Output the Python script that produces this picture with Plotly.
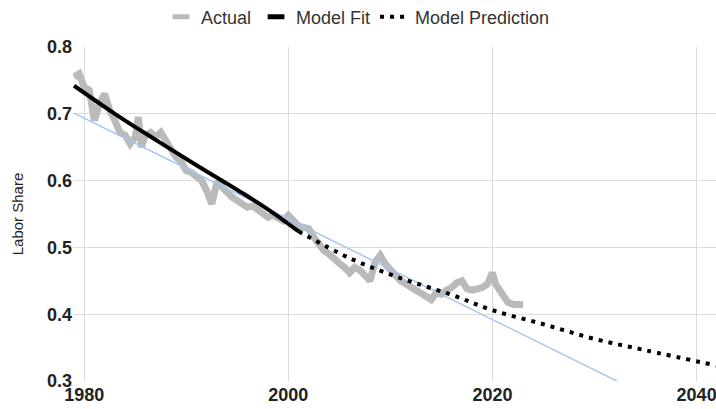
import plotly.graph_objects as go

# Actual labor share
actual_years = [1979.0, 1979.5, 1980.0, 1980.5, 1981.0, 1981.5, 1982.0, 1982.5, 1983.0, 1983.5,
                1984.0, 1984.5, 1985.0, 1985.3, 1985.6, 1986.0, 1986.5, 1987.0, 1987.5, 1988.0,
                1988.5, 1989.0, 1989.5, 1990.0, 1990.5, 1991.0, 1991.5, 1992.0, 1992.5, 1993.0,
                1993.5, 1994.0, 1994.5, 1995.0, 1995.5, 1996.0, 1996.5, 1997.0, 1997.5, 1998.0,
                1998.5, 1999.0, 1999.5, 2000.0, 2000.5, 2001.0, 2001.5, 2002.0, 2002.5, 2003.0,
                2003.5, 2004.0, 2004.5, 2005.0, 2005.5, 2006.0, 2006.5, 2007.0, 2007.5, 2008.0,
                2008.5, 2009.0, 2009.5, 2010.0, 2010.5, 2011.0, 2011.5, 2012.0, 2012.5, 2013.0,
                2013.5, 2014.0, 2014.5, 2015.0, 2015.5, 2016.0, 2016.5, 2017.0, 2017.5, 2018.0,
                2018.5, 2019.0, 2019.5, 2020.0, 2020.3, 2020.6, 2021.0, 2021.5, 2022.0, 2022.5,
                2023.0]
actual_values = [0.755, 0.760, 0.740, 0.735, 0.690, 0.715, 0.730, 0.705, 0.690, 0.672,
                 0.668, 0.655, 0.665, 0.695, 0.650, 0.668, 0.672, 0.665, 0.672, 0.660,
                 0.645, 0.635, 0.628, 0.615, 0.612, 0.605, 0.600, 0.585, 0.565, 0.598,
                 0.590, 0.580, 0.575, 0.570, 0.566, 0.560, 0.562, 0.556, 0.548, 0.545,
                 0.548, 0.545, 0.540, 0.548, 0.538, 0.532, 0.530, 0.528, 0.515, 0.505,
                 0.495, 0.490, 0.482, 0.476, 0.470, 0.462, 0.470, 0.466, 0.458, 0.450,
                 0.478, 0.488, 0.475, 0.465, 0.458, 0.450, 0.445, 0.440, 0.436, 0.432,
                 0.428, 0.422, 0.432, 0.430, 0.436, 0.440, 0.447, 0.450, 0.438, 0.436,
                 0.438, 0.440, 0.445, 0.462, 0.445, 0.438, 0.430, 0.418, 0.415, 0.415,
                 0.414]

# Model fit (solid black)
fit_years = [1979, 1983, 1987, 1991, 1995, 1998, 2001]
fit_values = [0.742, 0.700, 0.661, 0.623, 0.586, 0.557, 0.524]

# Model prediction (dotted)
pred_years = [2001, 2006, 2011, 2016, 2020, 2025, 2030, 2035, 2042]
pred_values = [0.524, 0.484, 0.454, 0.429, 0.406, 0.385, 0.363, 0.346, 0.323]

# Linear trendline (light blue)
trend_years = [1979, 2042]
trend_values = [0.701, 0.226]

x_ticks = [1980, 2000, 2020, 2040]
y_ticks = [0.3, 0.4, 0.5, 0.6, 0.7, 0.8]

FONT = "Liberation Sans, Arial, sans-serif"
GRAY = "#bababa"

fig = go.Figure()
fig.add_trace(go.Scatter(x=actual_years, y=actual_values, mode="lines",
                         line=dict(color=GRAY, width=7), showlegend=False, hoverinfo="skip"))
fig.add_trace(go.Scatter(x=trend_years, y=trend_values, mode="lines",
                         line=dict(color="#a9c4f0", width=1.5), showlegend=False, hoverinfo="skip"))
# legend-only entries
fig.add_trace(go.Scatter(x=[None], y=[None], mode="markers", name="Actual",
                         marker=dict(symbol="line-ew-open", size=12, color=GRAY,
                                     line=dict(color=GRAY, width=5))))
fig.add_trace(go.Scatter(x=[None], y=[None], mode="markers", name="Model Fit",
                         marker=dict(symbol="line-ew-open", size=12, color="#000000",
                                     line=dict(color="#000000", width=5))))
fig.add_trace(go.Scatter(x=fit_years, y=fit_values, mode="lines", line_shape="spline",
                         line=dict(color="#000000", width=4), showlegend=False))
fig.add_trace(go.Scatter(x=pred_years, y=pred_values, mode="lines", line_shape="spline",
                         name="Model Prediction",
                         line=dict(color="#000000", width=4, dash="4px,6px")))

fig.update_layout(
    width=716, height=409,
    margin=dict(l=73, r=0, t=47, b=28, autoexpand=False),
    paper_bgcolor="white", plot_bgcolor="white",
    font=dict(family=FONT, color="#333333"),
    legend=dict(orientation="h", xref="container", yref="container",
                x=0.5, xanchor="center", y=1 - 17/409, yanchor="middle",
                font=dict(size=18, color="#333333"), itemwidth=30,
                bgcolor="rgba(0,0,0,0)"),
    xaxis=dict(range=[1978.9, 2041.9], tickvals=x_ticks, ticktext=[str(v) for v in x_ticks],
               showgrid=True, gridcolor="#dcdcdc", gridwidth=1, zeroline=False,
               showline=False, ticks="", automargin=False, ticklabelstandoff=1,
               ticklabeloverflow="allow",
               tickfont=dict(family=FONT, size=18, color="#222222", weight="bold")),
    yaxis=dict(range=[0.3, 0.8], tickvals=y_ticks, ticktext=["0.3", "0.4", "0.5", "0.6", "0.7", "0.8"],
               showgrid=True, gridcolor="#dcdcdc", gridwidth=1, zeroline=False,
               showline=False, ticks="", automargin=False, ticklabeloverflow="allow",
               tickfont=dict(family=FONT, size=18, color="#222222", weight="bold"),
               title=dict(text="Labor Share", font=dict(family=FONT, size=15, color="#222222"),
                          standoff=19)),
)

fig.write_html("out.html", config={"displayModeBar": False},
               post_script="document.body.style.margin='0';")
